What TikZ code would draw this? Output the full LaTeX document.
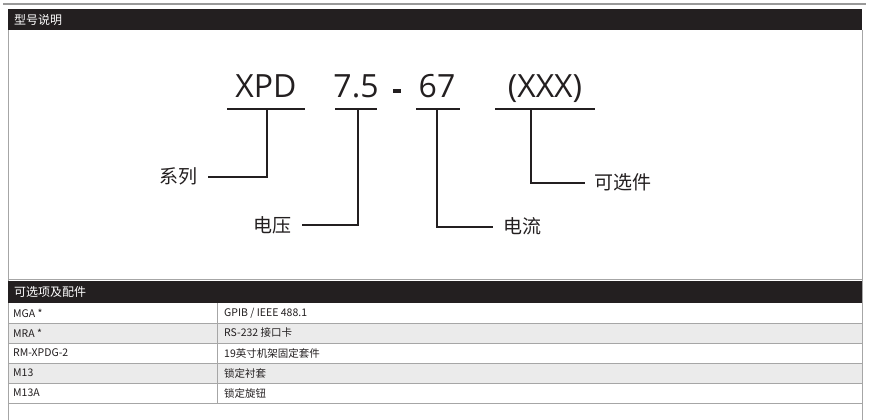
\documentclass[tikz,border=0pt]{standalone}
\usepackage{fontspec}
\setmainfont{Open Sans}
\newfontfamily\cjk{Noto Sans CJK SC}
\definecolor{ink}{HTML}{231F20}
\definecolor{rowg}{HTML}{EBEBEB}
\begin{document}
\begin{tikzpicture}[x=1pt,y=-1pt,
  hdr/.style={anchor=west,text=white,font=\cjk\fontsize{12}{13}\selectfont,inner sep=0},
  cell/.style={anchor=west,text=ink,font=\cjk\fontsize{10.5}{12}\selectfont,inner sep=0},
  big/.style={text=ink,font=\fontsize{32}{34}\selectfont,inner sep=0,anchor=base},
  lab/.style={text=ink,font=\cjk\fontsize{19}{21}\selectfont,inner sep=0},
  bar/.style={draw=ink,line width=2.6pt},
  grid/.style={draw=gray!70,line width=0.8pt}]
\useasboundingbox (0,0) rectangle (870,420);
\fill[white] (0,0) rectangle (870,420);
\draw[gray!80,line width=1.5pt] (3,4) -- (866,4);
\fill[ink] (8,9) rectangle (862,30);
\node[hdr] (h1) at (14,19.5) {型号说明};
% diagram
\node[big] (xpd) at (266,97) {XPD};
\node[big] (v) at (356,97) {7.5};
\node[big] (c) at (437,97) {67};
\node[big] (o) at (545,97) {(XXX)};
\fill[ink] (393,89) rectangle (401,93);
\coordinate (u1a) at (227,109); \coordinate (u1b) at (305,109);
\coordinate (u2a) at (335,109); \coordinate (u2b) at (377,109);
\coordinate (u3a) at (416,109); \coordinate (u3b) at (460,109);
\coordinate (u4a) at (495,109); \coordinate (u4b) at (595,109);
\draw[bar] (u1a) -- (u1b); \draw[bar] (u2a) -- (u2b);
\draw[bar] (u3a) -- (u3b); \draw[bar] (u4a) -- (u4b);
\node[lab] (l1) at (178,176) {系列};
\node[lab] (l2) at (272,225) {电压};
\node[lab] (l3) at (522,226) {电流};
\node[lab] (l4) at (623,182) {可选件};
\draw[bar] (267,109) |- (208,177);
\draw[bar] (358,109) |- (302,225);
\draw[bar] (437,109) |- (493,227);
\draw[bar] (531,109) |- (585,183);
% table
\draw[grid] (8,30) -- (8,420);
\draw[grid] (862,30) -- (862,420);
\draw[gray!70,line width=1.2pt] (8,279.5) -- (862,279.5);
\fill[ink] (8,281) rectangle (862,303);
\node[hdr] (h2) at (14,292) {可选项及配件};
\fill[rowg] (8,323) rectangle (862,343);
\fill[rowg] (8,363) rectangle (862,383);
\foreach \yy in {323,343,363,383,403} \draw[grid] (8,\yy) -- (862,\yy);
\draw[grid] (217,303) -- (217,403);
\draw[grid] (8,303) -- (8,403);
\node[cell] (a1) at (13,313) {MGA *};
\node[cell] (b1) at (224,313) {GPIB / IEEE 488.1};
\node[cell] (a2) at (13,333) {MRA *};
\node[cell] (b2) at (224,333) {RS-232 接口卡};
\node[cell] (a3) at (13,353) {RM-XPDG-2};
\node[cell] (b3) at (224,353) {19英寸机架固定套件};
\node[cell] (a4) at (13,373) {M13};
\node[cell] (b4) at (224,373) {锁定衬套};
\node[cell] (a5) at (13,393) {M13A};
\node[cell] (b5) at (224,393) {锁定旋钮};
\end{tikzpicture}
\end{document}
